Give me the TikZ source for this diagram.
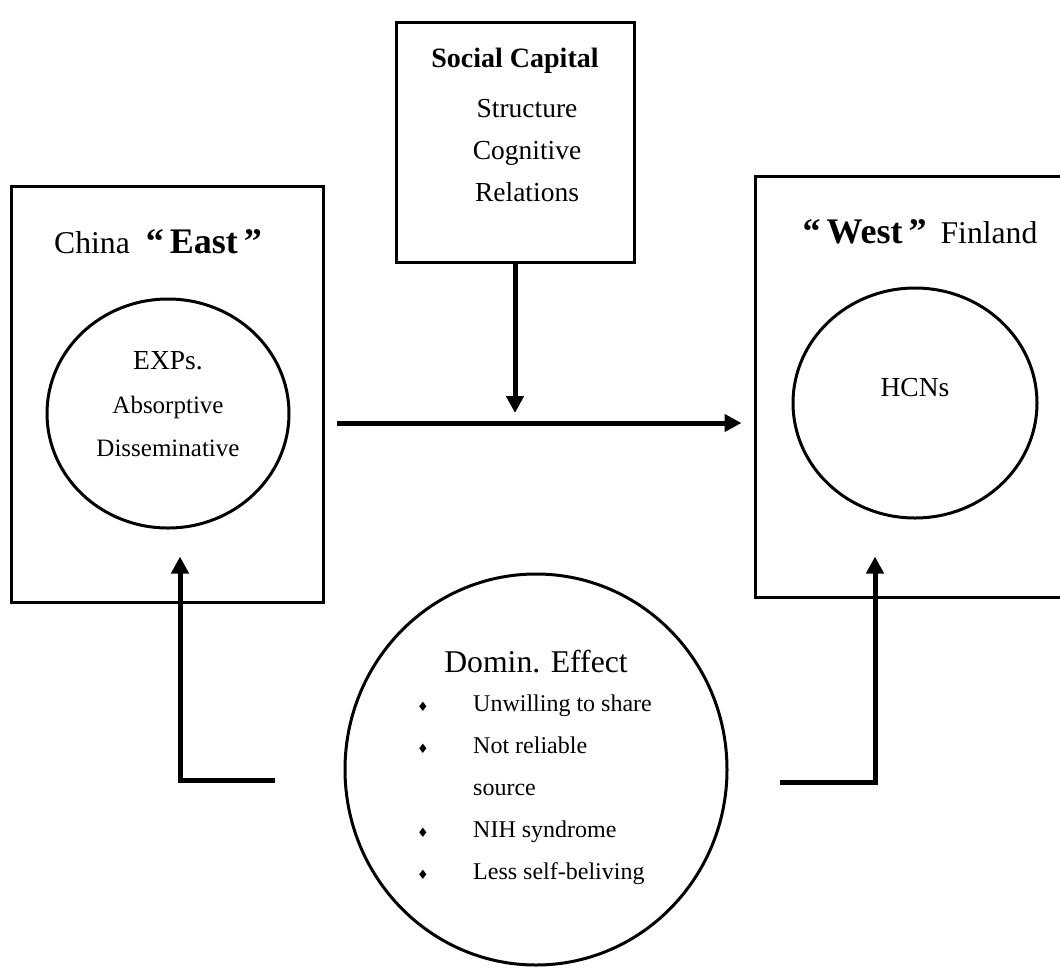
\documentclass[tikz,border=0pt]{standalone}
\usepackage{fontspec}
\setmainfont{Liberation Serif}
\newfontfamily\symbfont{DejaVu Sans}
\usetikzlibrary{arrows.meta,shapes.geometric}

\begin{document}
\begin{tikzpicture}[x=1pt,y=-1pt,
    box/.style={draw,line width=3pt,inner sep=0pt},
    ring/.style={draw,ellipse,line width=3pt,inner sep=0pt},
    arr/.style={line width=5pt,-{Triangle[length=17pt,width=17pt]}},
    txt/.style={anchor=base,inner sep=0pt},
    big/.style={font=\fontsize{31.7}{36}\selectfont},
    mid/.style={font=\fontsize{27.5}{32}\selectfont},
    small/.style={font=\fontsize{25}{30}\selectfont},
    item/.style={txt,anchor=base west,font=\fontsize{24}{28}\selectfont},
    dot/.style={txt,font=\symbfont\fontsize{13}{13}\selectfont}]

  \clip (0,0) rectangle (1060,967);

  \begin{scope}[every node/.style={box}]
    \node (east)   at (167,394)   [minimum width=312pt,minimum height=416pt] {};
    \node (west)   at (915,386.5) [minimum width=320pt,minimum height=421pt] {};
    \node (social) at (515,142)   [minimum width=238pt,minimum height=240pt] {};
  \end{scope}

  \begin{scope}[every node/.style={ring}]
    \node (exps)  at (168,413.5) [minimum width=242pt,minimum height=229pt] {};
    \node (hcns)  at (915,403)   [minimum width=244pt,minimum height=230pt] {};
    \node (domin) at (536,769.5) [minimum width=382pt,minimum height=391pt] {};
  \end{scope}

  % labels
  \node[txt,big] (eastlbl) at (158,253)
    {China\hspace{16pt}{\bfseries\fontsize{36}{40}\selectfont “\,East\,”}};
  \node[txt,big] (westlbl) at (920,243)
    {{\bfseries\fontsize{36}{40}\selectfont “\,West\,”}\hspace{14pt}Finland};

  \node[txt,font=\bfseries\fontsize{28}{34}\selectfont] (sctitle) at (515,67) {Social Capital};
  \node[txt,mid] (structure) at (527,117) {Structure};
  \node[txt,mid] (cognitive) at (527,159) {Cognitive};
  \node[txt,mid] (relations) at (527,201) {Relations};

  \node[txt,mid]   (expslbl) at (168,369) {EXPs.};
  \node[txt,small] (absorb)  at (168,413) {Absorptive};
  \node[txt,small] (dissem)  at (168,456) {Disseminative};

  \node[txt,mid] (hcnslbl) at (915,396) {HCNs};

  \node[txt,big] (dominlbl) at (536,672) {Domin. Effect};
  \node[dot]  (d1) at (423,711) {♦};
  \node[item] (i1) at (473,711) {Unwilling to share};
  \node[dot]  (d2) at (423,753) {♦};
  \node[item] (i2) at (473,753) {Not reliable};
  \node[item] (i2b) at (473,795) {source};
  \node[dot]  (d3) at (423,837) {♦};
  \node[item] (i3) at (473,837) {NIH syndrome};
  \node[dot]  (d4) at (423,879) {♦};
  \node[item] (i4) at (473,879) {Less self-beliving};

  % arrows
  \coordinate (hs) at (337,423);
  \coordinate (dl) at (275,780);
  \coordinate (dr) at (780,782);

  \draw[arr,shorten >=10pt] (social.south) -- (social.south |- hs);
  \draw[arr,shorten >=12pt] (hs) -- (hs -| west.west);
  \draw[arr,shorten >=27pt] (dl) -| ([xshift=12pt]exps.south);
  \draw[arr,shorten >=37pt] (dr) -| ([xshift=-40pt]hcns.south);

\end{tikzpicture}
\end{document}
